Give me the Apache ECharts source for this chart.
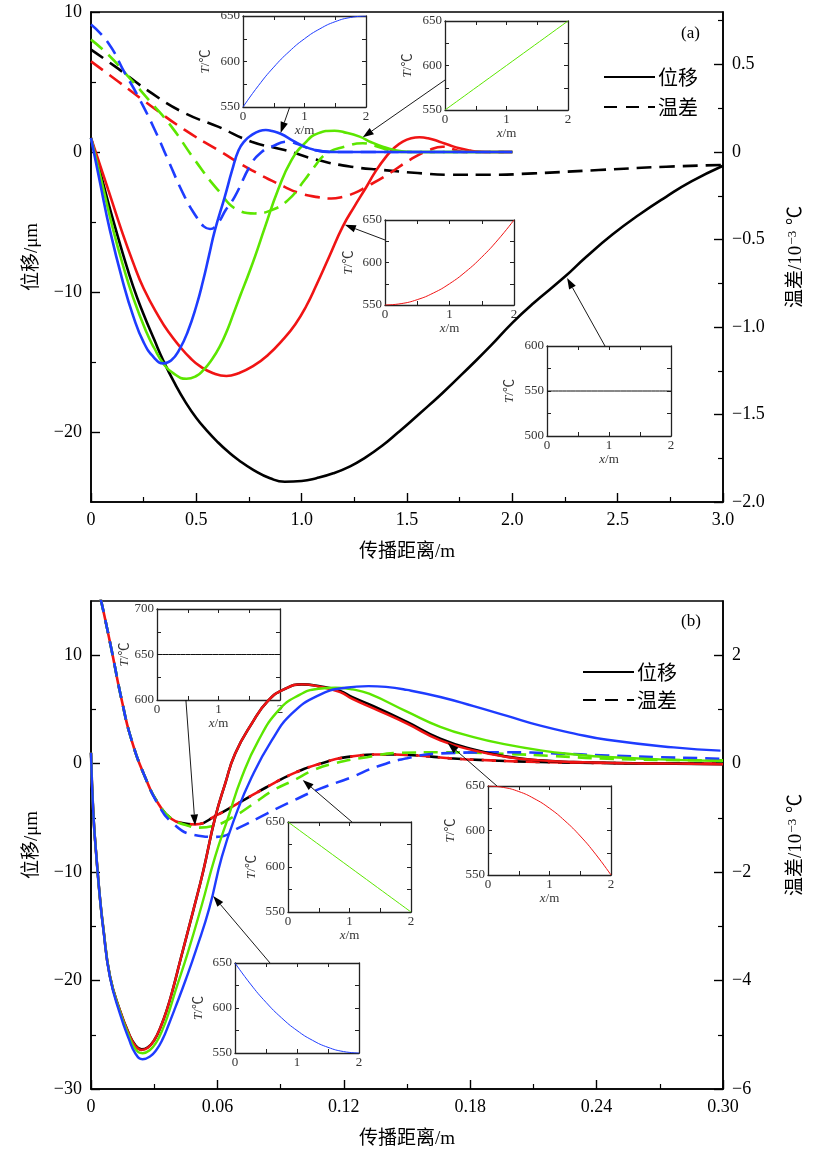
<!DOCTYPE html>
<html><head><meta charset="utf-8">
<script src="https://cdn.jsdelivr.net/npm/echarts@6/dist/echarts.min.js"></script>
<style>html,body{margin:0;padding:0;background:#fff}#c{width:814px;height:1153px}</style>
</head><body><div id="c"></div><script>
// ---------------- DATA ----------------
// Panel (a): displacement (um, left axis) vs distance (m)
const aSolidBlack = [[0,1.0],[0.05,-1.8],[0.1,-4.6],[0.15,-7.2],[0.2,-9.6],[0.25,-11.6],[0.3,-13.4],[0.343,-14.9],[0.4,-16.6],[0.45,-17.9],[0.5,-19.0],[0.55,-19.9],[0.6,-20.7],[0.65,-21.4],[0.7,-22.0],[0.77,-22.7],[0.85,-23.3],[0.92,-23.55],[1.0,-23.5],[1.07,-23.3],[1.15,-22.95],[1.23,-22.45],[1.3,-21.85],[1.385,-20.95],[1.46,-20.0],[1.51,-19.35],[1.6,-18.15],[1.67,-17.2],[1.8,-15.3],[1.9,-13.8],[2.0,-12.2],[2.1,-10.8],[2.25,-8.9],[2.35,-7.5],[2.475,-5.9],[2.6,-4.5],[2.73,-3.2],[2.85,-2.1],[3.0,-0.98]];
const aSolidBlue = [[0,1.0],[0.043,-2.2],[0.09,-5.6],[0.15,-9.2],[0.2,-11.7],[0.25,-13.6],[0.3,-14.7],[0.343,-15.1],[0.38,-14.9],[0.42,-14.1],[0.46,-12.8],[0.5,-11.0],[0.532,-9.2],[0.56,-7.4],[0.588,-5.6],[0.635,-3.2],[0.67,-1.3],[0.7,0.1],[0.73,0.8],[0.762,1.2],[0.8,1.5],[0.83,1.57],[0.86,1.5],[0.9,1.3],[0.96,0.8],[1.014,0.38],[1.06,0.15],[1.11,0.03],[1.16,0],[1.5,0],[2.0,0]];
const aSolidGreen = [[0,1.0],[0.05,-2.1],[0.106,-5.6],[0.15,-8.0],[0.2,-10.4],[0.264,-12.9],[0.3,-14.0],[0.343,-15.1],[0.39,-15.8],[0.453,-16.2],[0.5,-16.0],[0.532,-15.6],[0.57,-14.9],[0.611,-13.9],[0.65,-12.6],[0.675,-11.6],[0.71,-10.2],[0.746,-8.8],[0.78,-7.4],[0.825,-5.4],[0.888,-2.7],[0.951,-0.6],[1.014,0.62],[1.077,1.33],[1.156,1.52],[1.2,1.42],[1.275,1.1],[1.33,0.7],[1.385,0.38],[1.44,0.15],[1.5,0.02],[1.55,0],[2.0,0]];
const aSolidRed = [[0,1.0],[0.082,-2.7],[0.145,-5.6],[0.2,-7.9],[0.25,-9.75],[0.327,-11.9],[0.37,-12.9],[0.422,-13.9],[0.47,-14.7],[0.517,-15.3],[0.58,-15.8],[0.643,-16.0],[0.7,-15.8],[0.769,-15.3],[0.84,-14.5],[0.911,-13.4],[0.97,-12.3],[1.022,-11.0],[1.07,-9.5],[1.13,-7.5],[1.196,-5.3],[1.25,-3.9],[1.307,-2.5],[1.35,-1.4],[1.401,-0.33],[1.44,0.3],[1.48,0.74],[1.52,0.98],[1.559,1.05],[1.6,0.98],[1.654,0.74],[1.7,0.5],[1.749,0.26],[1.8,0.1],[1.844,0.02],[1.9,0],[2.0,0]];
// Panel (a): temperature difference (1e-3 C, right axis)
const aDashBlack = [[0,0.585],[0.114,0.489],[0.288,0.336],[0.445,0.222],[0.603,0.145],[0.762,0.059],[0.919,0.011],[1.077,-0.046],[1.235,-0.084],[1.385,-0.103],[1.55,-0.12],[1.7,-0.13],[1.9,-0.13],[2.1,-0.122],[2.41,-0.103],[2.73,-0.084],[3.0,-0.074]];
const aDashBlue = [[0,0.728],[0.082,0.623],[0.161,0.451],[0.224,0.317],[0.303,0.126],[0.366,-0.046],[0.445,-0.256],[0.5,-0.37],[0.535,-0.425],[0.565,-0.44],[0.6,-0.41],[0.64,-0.33],[0.682,-0.256],[0.762,-0.065],[0.81,0.0],[0.856,0.03],[0.935,0.059],[0.98,0.045],[1.05,0.015],[1.15,0],[2.0,0]];
const aDashGreen = [[0,0.642],[0.082,0.556],[0.177,0.431],[0.288,0.279],[0.382,0.145],[0.493,-0.046],[0.603,-0.218],[0.698,-0.332],[0.777,-0.351],[0.856,-0.332],[0.935,-0.275],[1.014,-0.16],[1.06,-0.085],[1.117,-0.01],[1.204,0.03],[1.29,0.05],[1.35,0.035],[1.417,0.011],[1.5,0],[2.0,0]];
const aDashRed = [[0,0.518],[0.129,0.403],[0.288,0.26],[0.445,0.126],[0.603,0.011],[0.762,-0.103],[0.919,-0.199],[0.99,-0.235],[1.077,-0.258],[1.14,-0.266],[1.196,-0.256],[1.25,-0.235],[1.307,-0.199],[1.417,-0.122],[1.512,-0.046],[1.607,0.011],[1.67,0.03],[1.72,0.015],[1.77,0],[2.0,0]];
// Panel (b)
const bSolidBlack = [[0,1.0],[0.0011,-4.6],[0.0027,-8.9],[0.0043,-12.5],[0.0058,-15.1],[0.009,-19.6],[0.0138,-22.8],[0.018,-24.9],[0.021,-25.95],[0.024,-26.35],[0.027,-26.15],[0.03,-25.5],[0.033,-24.3],[0.036,-22.7],[0.039,-20.7],[0.0423,-18.2],[0.0486,-13.5],[0.0534,-9.8],[0.0589,-5.0],[0.0637,-1.84],[0.0684,0.92],[0.0763,3.69],[0.0842,5.83],[0.0922,6.91],[0.1001,7.31],[0.108,7.15],[0.1183,6.7],[0.1238,6.15],[0.1341,5.3],[0.15,3.85],[0.1658,2.3],[0.1816,1.3],[0.1975,0.65],[0.213,0.3],[0.229,0.15],[0.25,0.05],[0.277,0.0],[0.3,-0.05]];
const bSolidRed = [[0,1.0],[0.0011,-4.6],[0.0027,-8.9],[0.0043,-12.5],[0.0058,-15.1],[0.009,-19.6],[0.0138,-22.8],[0.018,-24.9],[0.021,-26.0],[0.024,-26.4],[0.027,-26.2],[0.03,-25.5],[0.033,-24.3],[0.036,-22.7],[0.039,-20.7],[0.0423,-18.2],[0.0486,-13.5],[0.0534,-9.8],[0.0589,-5.0],[0.0637,-1.84],[0.0684,0.92],[0.0763,3.69],[0.0842,5.83],[0.0922,6.91],[0.1001,7.31],[0.108,7.12],[0.1183,6.6],[0.1238,6.0],[0.1341,5.1],[0.15,3.69],[0.1658,2.15],[0.1816,1.23],[0.1975,0.61],[0.213,0.3],[0.229,0.15],[0.25,0.05],[0.277,0.0],[0.3,-0.05]];
const bSolidGreen = [[0,1.0],[0.0011,-4.6],[0.0027,-8.9],[0.0043,-12.5],[0.0058,-15.1],[0.009,-19.6],[0.0138,-22.9],[0.018,-25.1],[0.021,-26.3],[0.0245,-26.7],[0.028,-26.4],[0.031,-25.7],[0.034,-24.5],[0.037,-22.9],[0.04,-21.0],[0.046,-17.4],[0.0525,-13.1],[0.0589,-8.6],[0.0652,-4.9],[0.0716,-1.23],[0.0795,2.15],[0.089,4.91],[0.0985,6.3],[0.108,6.91],[0.1159,7.0],[0.124,6.85],[0.132,6.45],[0.15,4.8],[0.1658,3.4],[0.1816,2.45],[0.1975,1.75],[0.2133,1.23],[0.23,0.85],[0.245,0.61],[0.27,0.4],[0.3,0.25]];
const bSolidBlue = [[0,1.0],[0.0011,-4.6],[0.0027,-8.9],[0.0043,-12.5],[0.0058,-15.2],[0.009,-19.7],[0.0138,-23.1],[0.018,-25.4],[0.021,-26.7],[0.0245,-27.25],[0.028,-27.0],[0.031,-26.4],[0.034,-25.4],[0.037,-24.0],[0.04,-22.5],[0.045,-19.9],[0.05,-17.1],[0.0562,-13.3],[0.0621,-8.6],[0.0684,-4.9],[0.0763,-1.23],[0.0858,2.15],[0.0953,4.61],[0.108,6.3],[0.1207,7.0],[0.1317,7.15],[0.14,7.08],[0.15,6.8],[0.1658,6.15],[0.1816,5.3],[0.1975,4.4],[0.2133,3.5],[0.229,2.8],[0.245,2.2],[0.2766,1.5],[0.2988,1.2]];
const bDashBlack = [[0.0045,3.05],[0.0058,2.83],[0.0098,2.09],[0.0146,1.17],[0.0193,0.43],[0.0257,-0.25],[0.032,-0.74],[0.0383,-1.02],[0.044,-1.1],[0.0494,-1.12],[0.0597,-0.95],[0.0708,-0.71],[0.0835,-0.43],[0.0961,-0.18],[0.1088,0.0],[0.123,0.13],[0.139,0.17],[0.155,0.15],[0.17,0.1],[0.19,0.06],[0.213,0.03],[0.25,0.01],[0.3,0.0]];
const bDashRed = [[0.0045,3.05],[0.0058,2.83],[0.0098,2.09],[0.0146,1.17],[0.0193,0.43],[0.0257,-0.25],[0.032,-0.74],[0.0383,-1.02],[0.044,-1.1],[0.0494,-1.12],[0.0597,-0.95],[0.0708,-0.71],[0.0835,-0.43],[0.0961,-0.18],[0.1088,0.0],[0.123,0.13],[0.139,0.17],[0.155,0.15],[0.17,0.1],[0.19,0.06],[0.213,0.03],[0.25,0.01],[0.3,0.0]];
const bDashGreen = [[0.0045,3.05],[0.0058,2.83],[0.0098,2.09],[0.0146,1.17],[0.0193,0.43],[0.0257,-0.25],[0.032,-0.74],[0.0383,-1.02],[0.045,-1.13],[0.0515,-1.18],[0.058,-1.15],[0.0676,-0.98],[0.0771,-0.74],[0.0866,-0.49],[0.0961,-0.31],[0.1056,-0.12],[0.115,0.0],[0.131,0.12],[0.147,0.2],[0.166,0.21],[0.1975,0.18],[0.22,0.14],[0.245,0.09],[0.27,0.07],[0.3,0.06]];
const bDashBlue = [[0.0045,3.05],[0.0058,2.83],[0.0098,2.09],[0.0146,1.17],[0.0193,0.43],[0.0257,-0.25],[0.032,-0.76],[0.0383,-1.08],[0.0486,-1.31],[0.0597,-1.35],[0.0708,-1.17],[0.0835,-0.92],[0.0961,-0.68],[0.1088,-0.46],[0.123,-0.26],[0.136,-0.05],[0.15,0.1],[0.166,0.19],[0.1975,0.21],[0.22,0.19],[0.245,0.15],[0.27,0.12],[0.3,0.09]];
// Inset temperature profiles T (C) vs x (m)
const insetABlue = [[0,550],[0.25,573.4],[0.5,593.8],[0.75,610.9],[1,625],[1.25,635.9],[1.5,643.8],[1.75,648.4],[2,650]];
const insetAGreen = [[0,550],[2,650]];
const insetARed = [[0,550],[0.25,551.6],[0.5,556.3],[0.75,564.1],[1,575],[1.25,589.1],[1.5,606.3],[1.75,626.6],[2,650]];
const insetABlack = [[0,550],[2,550]];
const insetBBlack = [[0,650],[2,650]];
const insetBGreen = [[0,650],[2,550]];
const insetBRed = [[0,650],[0.25,648.4],[0.5,643.8],[0.75,635.9],[1,625],[1.25,610.9],[1.5,593.8],[1.75,573.4],[2,550]];
const insetBBlue = [[0,650],[0.25,626.6],[0.5,606.3],[0.75,589.1],[1,575],[1.25,564.1],[1.5,556.3],[1.75,551.6],[2,550]];
// Tick values
const aXMajor = [0,0.5,1.0,1.5,2.0,2.5,3.0], aXMinor = [0.25,0.75,1.25,1.75,2.25,2.75];
const aLMajor = [-20,-10,0,10], aLMinor = [-15,-5,5];
const aRMajor = [-2,-1.5,-1,-0.5,0,0.5], aRMinor = [-1.75,-1.25,-0.75,-0.25,0.25,0.75];
const bXMajor = [0,0.06,0.12,0.18,0.24,0.30], bXMinor = [0.03,0.09,0.15,0.21,0.27];
const bLMajor = [-30,-20,-10,0,10], bLMinor = [-25,-15,-5,5];
const bRMajor = [-6,-4,-2,0,2], bRMinor = [-5,-3,-1,1];

// ---------------- CHART ----------------
const FONT = "'Liberation Serif','Noto Sans CJK SC',serif";
const CJK = "'Noto Sans CJK SC','Liberation Serif',sans-serif";
const C = {k:'#000000', r:'#f01414', g:'#5ce600', b:'#1e3cff'};
const grids=[], xAxes=[], yAxes=[], series=[];

function addGrid(l,t,w,h,border){
  grids.push({left:l,top:t,width:w,height:h,show:!!border,borderColor:'#000',borderWidth:border||0,backgroundColor:'transparent'});
  return grids.length-1;
}
function mainAxis(list, gi, pos, min, max, majors, minors, fmt, extra){
  const base = {type:'value', gridIndex:gi, position:pos, min:min, max:max, splitLine:{show:false}, silent:true,
    axisLine:{show:true,onZero:false,lineStyle:{color:'#000',width:1.6}}};
  const major = Object.assign({}, base, {
    axisTick:{show:true,inside:true,length:9,lineStyle:{color:'#000',width:1.4},customValues:majors},
    axisLabel:{show:true,customValues:majors,formatter:fmt,color:'#000',fontSize:18,fontFamily:FONT,margin:9}
  }, extra||{});
  list.push(major); const idx=list.length-1;
  list.push(Object.assign({}, base, {axisLine:{show:false,onZero:false},
    axisTick:{show:true,inside:true,length:5,lineStyle:{color:'#000',width:1.2},customValues:minors},
    axisLabel:{show:false}}));
  return idx;
}
function fmtInt(v){ return v<0 ? '\u2212'+Math.abs(v) : String(v); }
function fmtFix(n){ return v => v===0 ? '0' : (v<0?'\u2212':'') + Math.abs(v).toFixed(n); }

function line(data, color, xi, yi, dashed, w, z, extra){
  return Object.assign({type:'line', data:data, xAxisIndex:xi, yAxisIndex:yi, symbol:'none', smooth:0.5,
    silent:true, animation:false, z:z||2, clip:true,
    lineStyle:{color:color, width:w, type:dashed?dashed:'solid', cap:'butt'}}, extra||{});
}
const xName = {name:'传播距离/m',nameLocation:'middle',nameGap:41,nameTextStyle:{fontSize:19,color:'#000',fontFamily:FONT}};
const yLName = {name:'位移/μm',nameLocation:'middle',nameRotate:90,nameGap:49,nameTextStyle:{fontSize:19,color:'#000',fontFamily:FONT}};
const yRName = {name:'温差/10{sup|\u22123} ℃',nameLocation:'middle',nameRotate:90,nameGap:63,
   nameTextStyle:{fontSize:19,color:'#000',fontFamily:FONT,rich:{sup:{fontSize:13,fontFamily:FONT,color:'#000',verticalAlign:'top',padding:[0,1,8,1]}}}};

// ----- Panel (a)
const gA = addGrid(91,12,633,490,1.5);
const axA = mainAxis(xAxes,gA,'bottom',0,3,aXMajor,aXMinor,fmtFix(1),xName);
const ayAL = mainAxis(yAxes,gA,'left',-25,10,aLMajor,aLMinor,fmtInt,yLName);
const ayAR = mainAxis(yAxes,gA,'right',-2,0.8,aRMajor,aRMinor,fmtFix(1),yRName);

const DA=[15,8];
series.push(line(aDashBlack,C.k,axA,ayAR,DA,2.6,3));
series.push(line(aDashRed,C.r,axA,ayAR,DA,2.6,3));
series.push(line(aDashGreen,C.g,axA,ayAR,DA,2.6,3));
series.push(line(aDashBlue,C.b,axA,ayAR,DA,2.6,3));
series.push(line(aSolidBlack,C.k,axA,ayAL,null,2.6,4));
series.push(line(aSolidRed,C.r,axA,ayAL,null,2.6,4));
series.push(line(aSolidGreen,C.g,axA,ayAL,null,2.6,4));
series.push(line(aSolidBlue,C.b,axA,ayAL,null,2.6,4));
// legend entries (no data of their own)
series.push({type:'line',name:'位移',data:[],xAxisIndex:axA,yAxisIndex:ayAL,symbol:'none',itemStyle:{color:'#000',opacity:0},lineStyle:{color:'#000',width:3,type:'solid'}});
series.push({type:'line',name:'温差',data:[],xAxisIndex:axA,yAxisIndex:ayAL,symbol:'none',itemStyle:{color:'#000',opacity:0},lineStyle:{color:'#000',width:3,type:[13,9]}});

// ----- Panel (b)
const gB = addGrid(91,601,633,488,1.5);
const axB = mainAxis(xAxes,gB,'bottom',0,0.3,bXMajor,bXMinor,fmtFix(2),xName);
const ayBL = mainAxis(yAxes,gB,'left',-30,15,bLMajor,bLMinor,fmtInt,yLName);
const ayBR = mainAxis(yAxes,gB,'right',-6,3,bRMajor,bRMinor,fmtInt,yRName);
const DB=[14,8];
series.push(line(bDashBlack,C.k,axB,ayBR,DB,2.6,3));
series.push(line(bDashRed,C.r,axB,ayBR,DB,2.6,3,{lineStyle:{color:C.r,width:2.6,type:DB,dashOffset:10}}));
series.push(line(bDashGreen,C.g,axB,ayBR,DB,2.6,3));
series.push(line(bDashBlue,C.b,axB,ayBR,DB,2.6,3));
series.push(line(bSolidBlack,C.k,axB,ayBL,null,2.6,4));
series.push(line(bSolidRed,C.r,axB,ayBL,null,2.4,4));
series.push(line(bSolidGreen,C.g,axB,ayBL,null,2.4,4));
series.push(line(bSolidBlue,C.b,axB,ayBL,null,2.4,4));

// ----- Insets
function inset(l,t,w,h,ymin,ymax,data,color,showXName,yGap){
  const gi = addGrid(l,t,w,h,0);
  const tick = {show:true,inside:true,length:4,lineStyle:{color:'#222',width:1}};
  const ln = {show:true,onZero:false,lineStyle:{color:'#222',width:1.3}};
  const lab = {color:'#333',fontSize:13,fontFamily:FONT};
  const xb = {type:'value',gridIndex:gi,position:'bottom',min:0,max:2,interval:0.5,silent:true,axisLine:ln,axisTick:tick,splitLine:{show:false},
    axisLabel:Object.assign({margin:3,formatter:v=>Number.isInteger(v)?String(v):''},lab)};
  if(showXName){ xb.name='{i|x}/m'; xb.nameLocation='middle'; xb.nameGap=16;
    xb.nameTextStyle=Object.assign({},lab,{rich:{i:{fontStyle:'italic',fontSize:13,fontFamily:FONT,color:'#333'}}}); }
  xAxes.push(xb); const xi=xAxes.length-1;
  xAxes.push({type:'value',gridIndex:gi,position:'top',min:0,max:2,interval:0.5,silent:true,axisLine:ln,axisTick:tick,splitLine:{show:false},axisLabel:{show:false}});
  yAxes.push({type:'value',gridIndex:gi,position:'left',min:ymin,max:ymax,interval:25,silent:true,axisLine:ln,axisTick:tick,splitLine:{show:false},
    axisLabel:Object.assign({margin:3,formatter:v=>v%50===0?String(v):''},lab),
    name:'{i|T}/℃',nameLocation:'middle',nameRotate:90,nameGap:yGap,
    nameTextStyle:Object.assign({},lab,{rich:{i:{fontStyle:'italic',fontSize:13,fontFamily:FONT,color:'#333'}}})});
  const yi=yAxes.length-1;
  yAxes.push({type:'value',gridIndex:gi,position:'right',min:ymin,max:ymax,interval:25,silent:true,axisLine:ln,axisTick:tick,splitLine:{show:false},axisLabel:{show:false}});
  series.push({type:'line',data:data,xAxisIndex:xi,yAxisIndex:yi,symbol:'none',smooth:0.5,silent:true,z:6,lineStyle:{color:color,width:1}});
  return {xi:xi, yi:yi};
}
const iAB = inset(243,16,123,91,550,650,insetABlue,C.b,true,31);
const iAG = inset(445,21,123,89,550,650,insetAGreen,C.g,true,31);
const iAR = inset(385,220,129,85,550,650,insetARed,C.r,true,30);
const iAK = inset(547,346,124,90,500,600,insetABlack,'#111',true,31);
const iBK = inset(157,609,123,91,600,700,insetBBlack,'#111',true,26);
const iBG = inset(288,822,123,90,550,650,insetBGreen,C.g,true,30);
const iBR = inset(488,786,123,89,550,650,insetBRed,C.r,true,31);
const iBB = inset(235,963,124,90,550,650,insetBBlue,C.b,false,30);

const legendCommon = {data:['位移','温差'],orient:'vertical',itemWidth:51,itemHeight:20,selectedMode:false,
  itemStyle:{opacity:0}, textStyle:{fontSize:20,fontFamily:CJK,color:'#000',padding:[0,0,0,-2]}};
const option = {
  animation:false,
  backgroundColor:'#fff',
  textStyle:{fontFamily:FONT},
  grid:grids, xAxis:xAxes, yAxis:yAxes, series:series,
  legend:[
    Object.assign({left:598,top:62,itemGap:10}, legendCommon),
    Object.assign({left:577,top:657,itemGap:8}, legendCommon)
  ]
};
const chart = echarts.init(document.getElementById('c'));
chart.setOption(option);

// ----- Arrows: tail in inset data coords, head in main data coords
const arrows = [
  {t:iAB, tp:[0.76,550], hx:axA, hy:ayAL, hp:[0.90,1.36]},
  {t:iAG, tp:[0,583.7], hx:axA, hy:ayAL, hp:[1.29,1.05]},
  {t:iAR, tp:[0,626.5], hx:axA, hy:ayAL, hp:[1.205,-5.2]},
  {t:iAK, tp:[0.935,600], hx:axA, hy:ayAL, hp:[2.26,-9.0]},
  {t:iBK, tp:[0.47,600], hx:axB, hy:ayBR, hp:[0.0494,-1.14]},
  {t:iBG, tp:[1.04,650], hx:axB, hy:ayBR, hp:[0.1005,-0.3]},
  {t:iBR, tp:[0.146,650], hx:axB, hy:ayBL, hp:[0.1693,1.9]},
  {t:iBB, tp:[0.565,650], hx:axB, hy:ayBL, hp:[0.058,-12.2]}
];
const g=[];
arrows.forEach(a=>{
  const t = chart.convertToPixel({xAxisIndex:a.t.xi, yAxisIndex:a.t.yi}, a.tp);
  const h = chart.convertToPixel({xAxisIndex:a.hx, yAxisIndex:a.hy}, a.hp);
  const dx=h[0]-t[0], dy=h[1]-t[1], L=Math.hypot(dx,dy), ux=dx/L, uy=dy/L;
  const len=11, hw=3.8, bx=h[0]-ux*len, by=h[1]-uy*len;
  g.push({type:'line',silent:true,z:100,shape:{x1:t[0],y1:t[1],x2:bx,y2:by},style:{stroke:'#000',lineWidth:0.9}});
  g.push({type:'polygon',silent:true,z:100,shape:{points:[[h[0],h[1]],[bx-uy*hw,by+ux*hw],[bx+uy*hw,by-ux*hw]]},style:{fill:'#000'}});
});
g.push({type:'text',silent:true,z:100,left:681,top:25,style:{text:'(a)',fontSize:17,fontFamily:FONT,fill:'#000'}});
g.push({type:'text',silent:true,z:100,left:681,top:613,style:{text:'(b)',fontSize:17,fontFamily:FONT,fill:'#000'}});
chart.setOption({graphic:g});
</script></body></html>
